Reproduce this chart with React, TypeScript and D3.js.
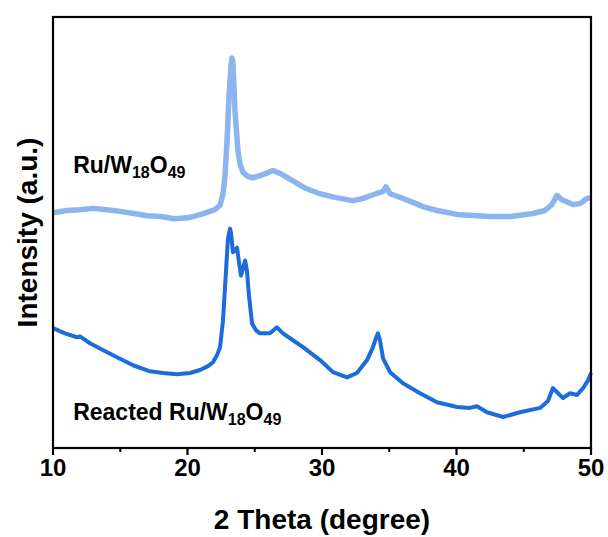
import * as d3 from 'd3';

// 2 theta (degree) vs intensity (a.u.)
const freshTheta = [10.0, 11.04, 12.01, 12.97, 14.01, 14.98, 16.02, 16.99, 18.03, 19.0, 20.04, 21.0, 21.67, 22.04, 22.42, 22.64, 22.79, 22.94, 23.09, 23.23, 23.31, 23.38, 23.53, 23.75, 23.9, 24.13, 24.5, 24.87, 25.39, 25.99, 26.36, 26.88, 27.84, 28.81, 29.85, 31.04, 32.3, 33.05, 34.01, 34.54, 34.76, 35.06, 36.02, 36.99, 37.51, 38.55, 40.04, 42.49, 44.05, 45.69, 46.58, 47.1, 47.47, 47.84, 48.66, 49.18, 49.7, 50.0];
const freshIntensity = [54.6, 55.1, 55.3, 55.6, 55.3, 54.9, 54.4, 53.9, 53.7, 53.2, 53.4, 54.2, 54.9, 55.3, 56.3, 59.0, 63.2, 71.3, 81.7, 88.7, 90.5, 89.4, 78.2, 69.0, 66.0, 63.9, 63.0, 62.7, 63.2, 63.9, 64.4, 63.7, 62.0, 60.2, 59.0, 58.1, 57.4, 57.9, 59.0, 59.5, 60.6, 59.0, 57.9, 56.7, 56.0, 55.1, 54.2, 53.7, 53.7, 54.4, 55.1, 56.5, 58.6, 57.6, 56.5, 56.7, 57.9, 58.1];

const reactedTheta = [10.0, 10.89, 11.78, 12.0, 12.75, 13.49, 14.61, 15.95, 17.21, 18.18, 19.22, 20.19, 20.93, 21.52, 21.9, 22.19, 22.42, 22.64, 22.79, 22.94, 23.01, 23.16, 23.23, 23.38, 23.53, 23.68, 23.83, 23.98, 24.13, 24.28, 24.42, 24.57, 24.8, 25.09, 25.39, 26.13, 26.65, 27.1, 27.84, 28.59, 29.85, 30.82, 31.86, 32.6, 33.35, 33.79, 34.01, 34.16, 34.31, 34.54, 35.06, 36.02, 37.29, 38.55, 40.04, 41.0, 41.52, 42.27, 43.46, 44.72, 46.21, 46.8, 47.17, 47.55, 47.92, 48.44, 48.96, 49.41, 49.78, 50.0];
const reactedIntensity = [27.8, 26.6, 25.7, 25.9, 24.3, 23.1, 21.3, 19.2, 17.8, 17.4, 17.1, 17.4, 18.1, 19.0, 19.9, 21.5, 23.4, 29.6, 37.3, 45.1, 48.6, 50.9, 50.0, 45.4, 45.8, 46.5, 43.1, 40.0, 41.7, 43.5, 41.2, 35.4, 28.9, 27.3, 26.6, 26.6, 28.0, 26.6, 25.0, 23.4, 20.4, 17.6, 16.4, 17.4, 20.4, 23.4, 25.5, 26.6, 25.0, 20.8, 17.6, 15.0, 12.7, 10.6, 9.5, 9.3, 9.7, 8.3, 7.2, 8.3, 9.3, 10.9, 13.9, 12.7, 11.6, 12.7, 12.3, 13.9, 15.7, 17.4];

const majorTicks = [10, 20, 30, 40, 50];
const minorTicks = [15, 25, 35, 45];

const W = 608;
const H = 537;
const margin = {left: 53, right: 17, top: 17, bottom: 89};
const font = '"Liberation Sans", Arial, sans-serif';

export default function App() {
    const x = d3.scaleLinear().domain([10, 50]).range([margin.left, W - margin.right]);
    const y = d3.scaleLinear().domain([0, 100]).range([H - margin.bottom, margin.top]);

    const line = d3.line<[number, number]>()
        .x((d) => x(d[0]))
        .y((d) => y(d[1]));

    const fresh = freshTheta.map((t, i) => [t, freshIntensity[i]] as [number, number]);
    const reacted = reactedTheta.map((t, i) => [t, reactedIntensity[i]] as [number, number]);

    const bottom = H - margin.bottom;

    return (
        <svg width={W} height={H} style={{position: 'absolute', left: 0, top: 0}} fontFamily={font}>
            <rect width={W} height={H} fill="#fff" />

            <path d={line(fresh) || ''} fill="none" stroke="#8cb5ee" strokeWidth={5.5} strokeLinejoin="round" />
            <path d={line(reacted) || ''} fill="none" stroke="#1c6cd9" strokeWidth={4} strokeLinejoin="round" />

            {/* frame */}
            <rect x={margin.left} y={margin.top} width={W - margin.left - margin.right}
                height={bottom - margin.top} fill="none" stroke="#000" strokeWidth={2.2} />

            {/* bottom ticks */}
            {majorTicks.map((t) => (
                <g key={'M' + t}>
                    <line x1={x(t)} x2={x(t)} y1={bottom} y2={bottom + 7} stroke="#000" strokeWidth={2.2} />
                    <text x={x(t)} y={bottom + 28} textAnchor="middle" fontSize={24} fontWeight="bold">{t}</text>
                </g>
            ))}
            {minorTicks.map((t) => (
                <line key={'m' + t} x1={x(t)} x2={x(t)} y1={bottom} y2={bottom + 4} stroke="#000" strokeWidth={2} />
            ))}

            {/* axis titles */}
            <text x={(margin.left + W - margin.right) / 2} y={529} textAnchor="middle" fontSize={28} fontWeight="bold">
                2 Theta (degree)
            </text>
            <text transform={`translate(37, ${(margin.top + bottom) / 2}) rotate(-90)`} textAnchor="middle"
                fontSize={28} fontWeight="bold">
                Intensity (a.u.)
            </text>

            {/* sample labels */}
            <text x={x(11.5)} y={y(63.9)} fontSize={23} fontWeight="bold">
                Ru/W<tspan fontSize={16} dy={5}>18</tspan><tspan dy={-5}>O</tspan><tspan fontSize={16} dy={5}>49</tspan>
            </text>
            <text x={x(11.5)} y={y(6.5)} fontSize={23} fontWeight="bold">
                Reacted Ru/W<tspan fontSize={16} dy={5}>18</tspan><tspan dy={-5}>O</tspan><tspan fontSize={16} dy={5}>49</tspan>
            </text>
        </svg>
    );
}
